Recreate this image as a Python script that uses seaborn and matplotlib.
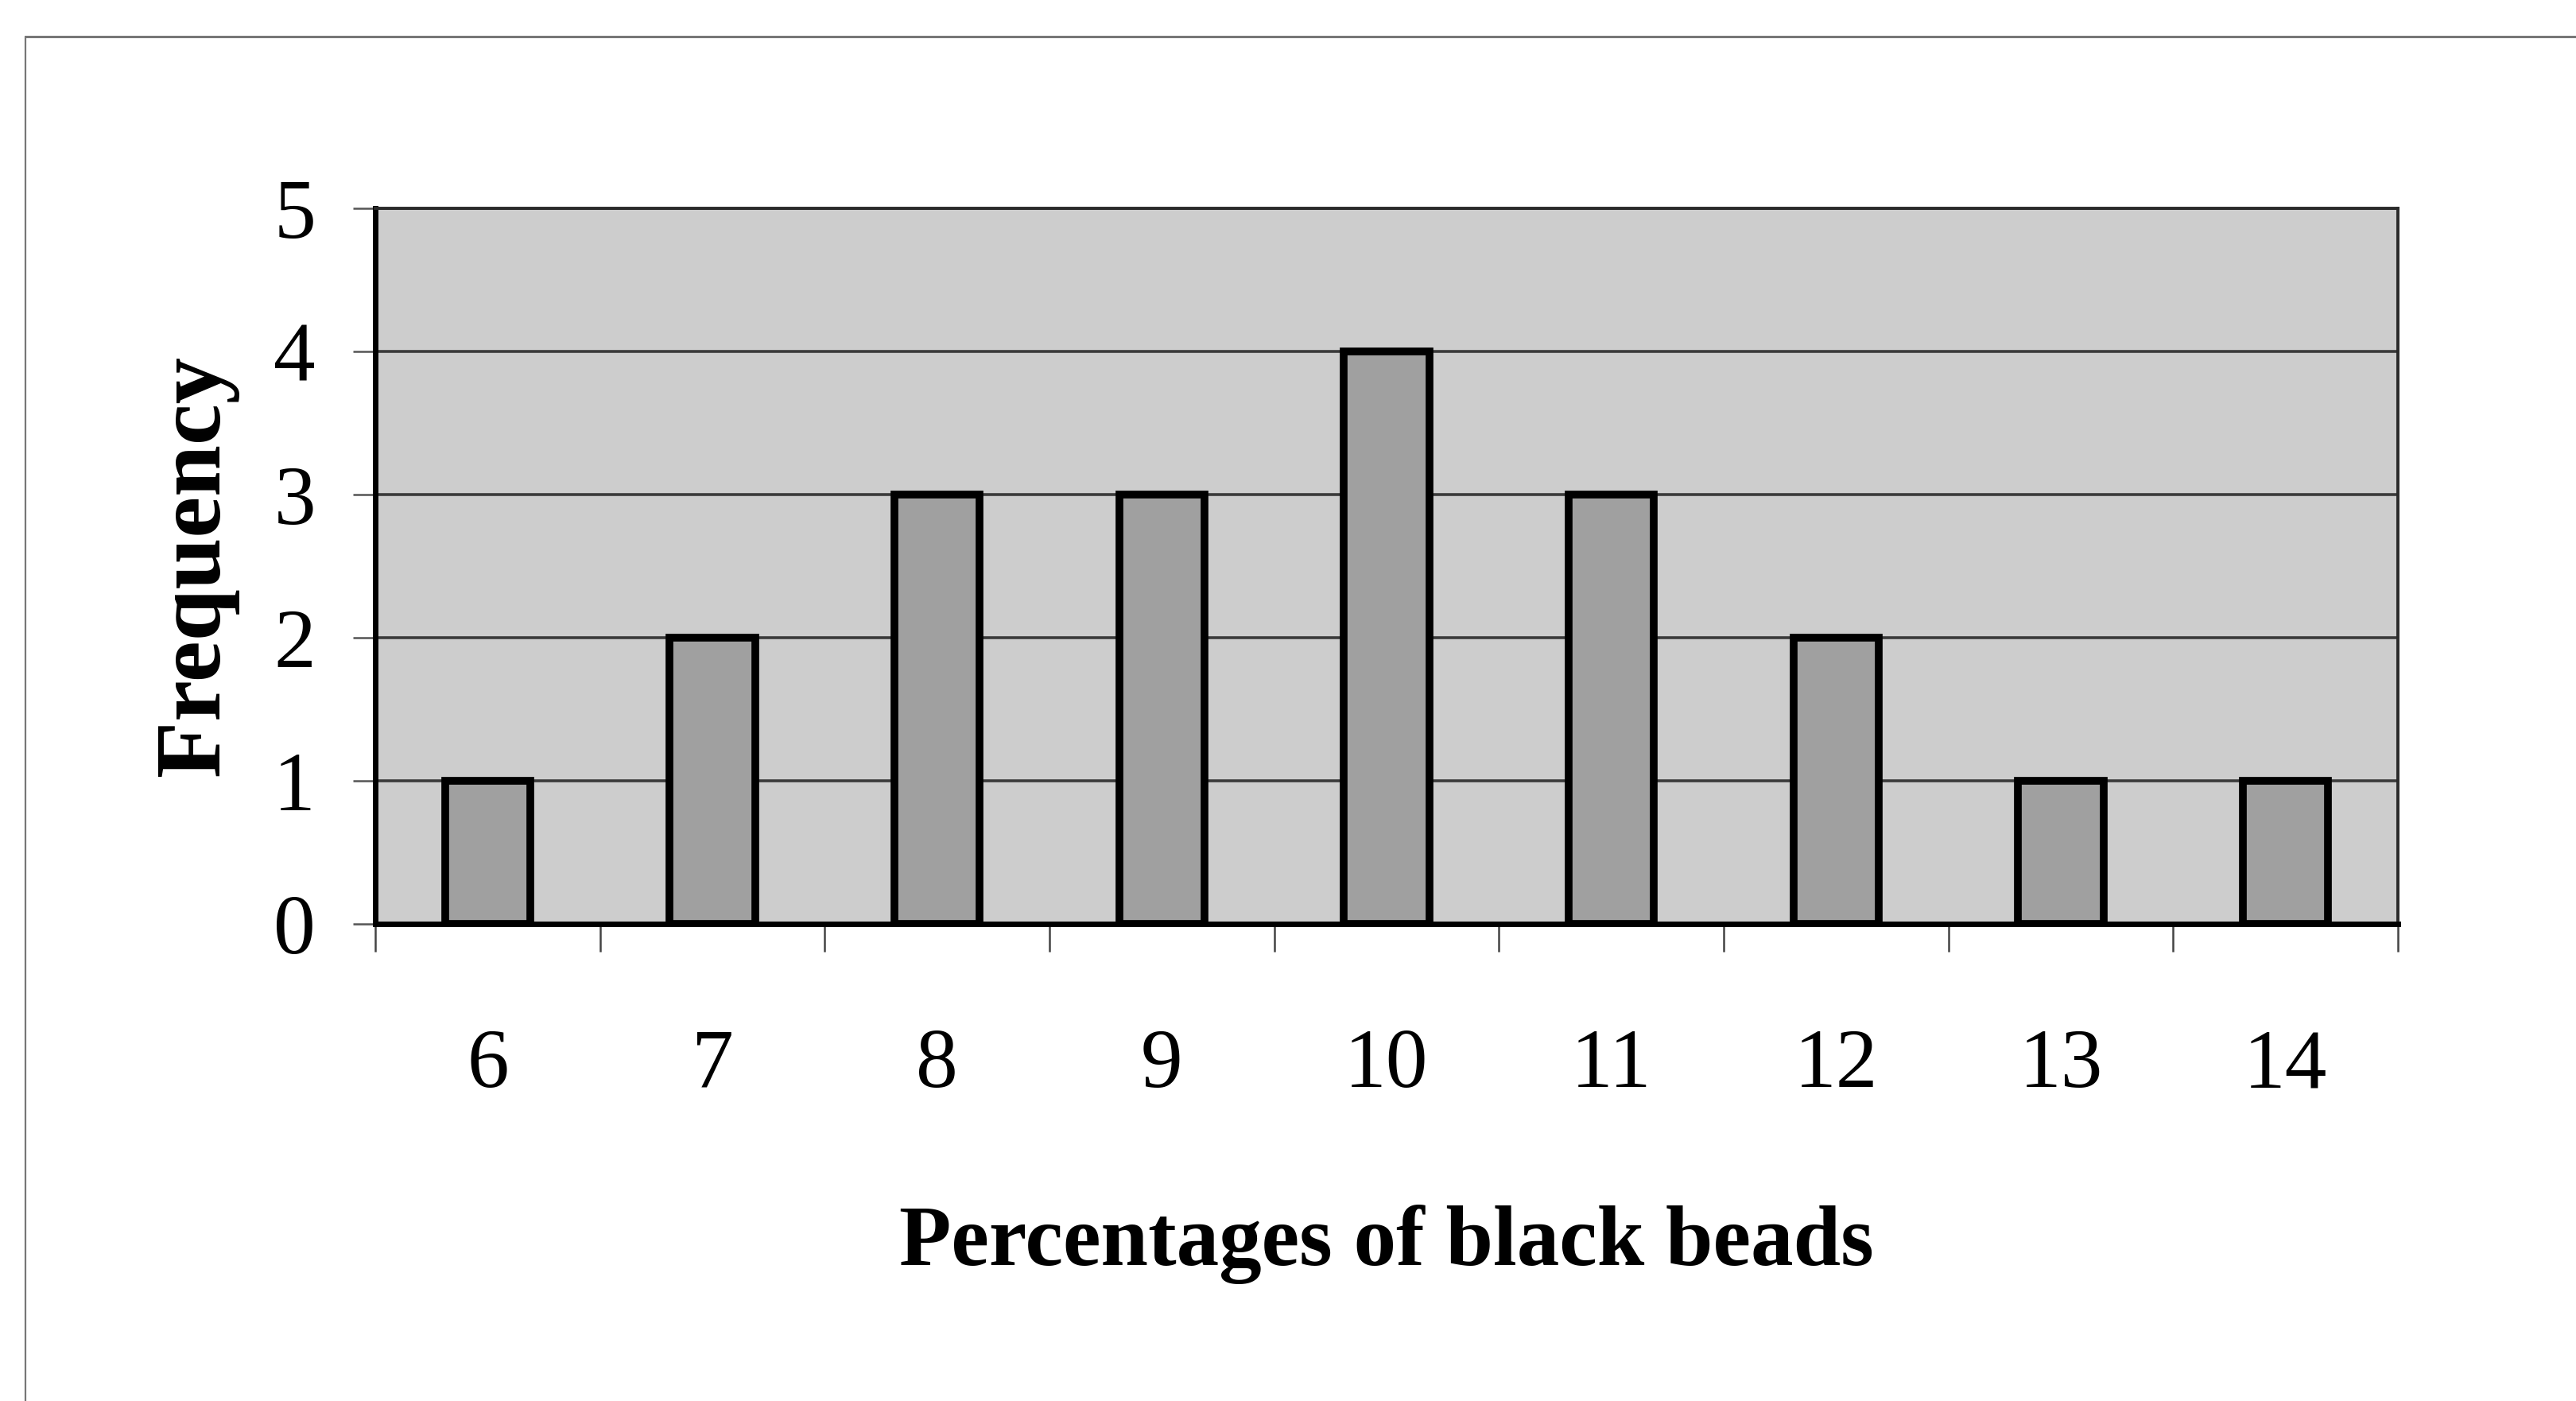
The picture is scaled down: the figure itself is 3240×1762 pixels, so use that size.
import matplotlib
matplotlib.use("Agg")
import matplotlib.pyplot as plt
from matplotlib.lines import Line2D
import seaborn as sns
import pandas as pd

# Frequency of each percentage of black beads
percentages = ["6", "7", "8", "9", "10", "11", "12", "13", "14"]
frequency = [1, 2, 3, 3, 4, 3, 2, 1, 1]
y_ticks = [0, 1, 2, 3, 4, 5]

df = pd.DataFrame({"Percentage": percentages, "Frequency": frequency})

sns.set_theme(style="white")
plt.rcParams["font.family"] = ["Liberation Serif", "DejaVu Serif"]
plt.rcParams["text.color"] = "black"
plt.rcParams["axes.labelcolor"] = "black"

fig = plt.figure(figsize=(32.41, 17.62), dpi=100)
fig.patch.set_facecolor("white")
ax = fig.add_axes([472 / 3241, 1 - 1162 / 1762, (3016 - 472) / 3241, (1162 - 262) / 1762])
ax.set_facecolor("#cdcdcd")

sns.barplot(data=df, x="Percentage", y="Frequency", order=percentages,
            color="#a0a0a0", width=0.38, edgecolor="black", linewidth=7,
            saturation=1, ax=ax, zorder=3)

ax.set_xlim(-0.5, len(percentages) - 0.5)
ax.set_ylim(0, 5)

# horizontal gridlines
ax.set_yticks(y_ticks)
ax.set_yticklabels([str(v) for v in y_ticks], fontsize=76)
ax.yaxis.grid(True, color="#3a3a3a", linewidth=2.6, zorder=1)
ax.xaxis.grid(False)
ax.set_axisbelow(True)

# ticks on category boundaries, labels centered under bars
ax.set_xticks([i - 0.5 for i in range(len(percentages) + 1)])
ax.set_xticklabels([])
ax.set_xticks(range(len(percentages)), minor=True)
ax.set_xticklabels(percentages, minor=True, fontsize=76)
ax.tick_params(axis="x", which="major", direction="out", length=25, width=1.8,
               color="#444444", bottom=True)
ax.tick_params(axis="x", which="minor", length=0, pad=95, labelcolor="black")
ax.tick_params(axis="y", direction="out", length=20, width=1.8, color="#555555",
               left=True, pad=34, labelcolor="black")

for side in ["left", "bottom"]:
    ax.spines[side].set_color("black")
    ax.spines[side].set_linewidth(5)
for side in ["top", "right"]:
    ax.spines[side].set_color("#2a2a2a")
    ax.spines[side].set_linewidth(2.8)
for s in ax.spines.values():
    s.set_zorder(4)

ax.set_xlabel("Percentages of black beads", fontsize=77, fontweight="bold",
              va="center", color="black")
ax.xaxis.set_label_coords(0.5, -0.448)
ax.set_ylabel("Frequency", fontsize=84, fontweight="bold", va="center", color="black")
ax.yaxis.set_label_coords(-0.0885, 0.5)

# chart area border
fig.add_artist(Line2D([32 / 3241, 32 / 3241], [0, 1 - 46 / 1762], color="#777777", linewidth=1.6))
fig.add_artist(Line2D([32 / 3241, 1], [1 - 46 / 1762, 1 - 46 / 1762], color="#777777", linewidth=2.2))

fig.savefig("out.png", dpi=100, facecolor="white")
